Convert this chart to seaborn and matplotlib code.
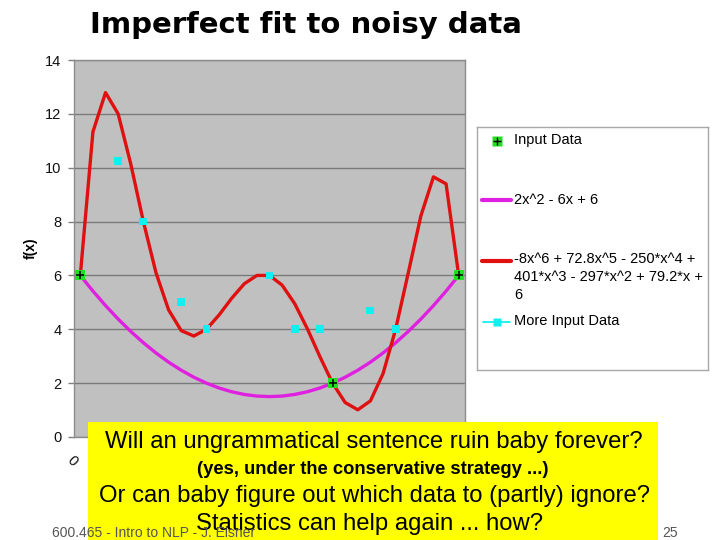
import numpy as np
import pandas as pd
import matplotlib
matplotlib.use("Agg")
import matplotlib.pyplot as plt
import seaborn as sns
from matplotlib.lines import Line2D
from matplotlib.patches import Rectangle

# x categories 0, 0.1, ..., 3.0
x_vals = [0.0, 0.1, 0.2, 0.3, 0.4, 0.5, 0.6, 0.7, 0.8, 0.9, 1.0,
          1.1, 1.2, 1.3, 1.4, 1.5, 1.6, 1.7, 1.8, 1.9, 2.0,
          2.1, 2.2, 2.3, 2.4, 2.5, 2.6, 2.7, 2.8, 2.9, 3.0]

# 2x^2 - 6x + 6
quad_vals = [6.00, 5.42, 4.88, 4.38, 3.92, 3.50, 3.12, 2.78, 2.48, 2.22, 2.00,
             1.82, 1.68, 1.58, 1.52, 1.50, 1.52, 1.58, 1.68, 1.82, 2.00,
             2.22, 2.48, 2.78, 3.12, 3.50, 3.92, 4.38, 4.88, 5.42, 6.00]

# degree 6 fit through all the input points
poly_vals = [6.00, 11.33, 12.79, 12.00, 10.14, 8.00, 6.10, 4.72, 3.95, 3.75, 4.00,
             4.53, 5.15, 5.69, 6.00, 6.00, 5.64, 4.95, 4.02, 2.98, 2.00,
             1.28, 1.01, 1.34, 2.35, 4.00, 6.09, 8.21, 9.66, 9.40, 6.00]

input_x = [0.0, 2.0, 3.0]
input_y = [6, 2, 6]

more_x = [0.3, 0.5, 0.8, 1.0, 1.5, 1.7, 1.9, 2.3, 2.5]
more_y = [10.25, 8, 5, 4, 6, 4, 4, 4.7, 4]

x_ticks = [0, 0.5, 1, 1.5, 2, 2.5, 3]
x_tick_labels = ["0", "0.5", "1", "1.5", "2", "2.5", "3"]

quad_label = "2x^2 - 6x + 6"
poly_label = "-8x^6 + 72.8x^5 - 250*x^4 +\n401*x^3 - 297*x^2 + 79.2*x +\n6"

RED = "#E01010"
MAGENTA = "#E020E0"
CYAN = "#10F0F0"
GREEN = "#20E020"

W, H = 720, 540

sns.set_style("white")
plt.rcParams["font.family"] = ["Liberation Sans", "DejaVu Sans"]
plt.rcParams["text.color"] = "black"

fig = plt.figure(figsize=(7.2, 5.4), dpi=100)
ax = fig.add_axes([74 / W, 1 - 437 / H, 391 / W, 377 / H])
ax.set_facecolor("#C0C0C0")

curves = pd.DataFrame({"x": x_vals, "quad": quad_vals, "poly": poly_vals})
sns.lineplot(data=curves, x="x", y="quad", color=MAGENTA, linewidth=2.4, ax=ax, zorder=3)
sns.lineplot(data=curves, x="x", y="poly", color=RED, linewidth=2.4, ax=ax, zorder=4)

sns.scatterplot(x=more_x, y=more_y, marker="s", s=32, color=CYAN,
                edgecolor="none", ax=ax, zorder=5)
sns.scatterplot(x=input_x, y=input_y, marker="s", s=52, color=GREEN,
                edgecolor="none", ax=ax, zorder=6)
sns.scatterplot(x=input_x, y=input_y, marker="+", s=40, color="black",
                linewidth=1.1, ax=ax, zorder=7)

ax.set_xlim(-0.05, 3.05)
ax.set_ylim(0, 14)
ax.set_yticks(range(0, 15, 2))
ax.yaxis.grid(True, color="#7A7A7A", linewidth=1.0)
ax.set_axisbelow(True)
ax.set_xticks(x_ticks)
ax.set_xticklabels(x_tick_labels, rotation=-45, ha="right", va="top", fontsize=10.5,
                   color="#111111")
ax.tick_params(axis="y", length=4, width=1, labelsize=10.5, direction="out", left=True,
               color="#808080", labelcolor="#111111", pad=5)
ax.tick_params(axis="x", length=0, pad=12)
ax.set_xlabel("")
ax.set_ylabel("f(x)", fontsize=10, fontweight="bold", labelpad=5, color="black")
for side in ["top", "right", "left", "bottom"]:
    ax.spines[side].set_color("#8C8C8C")
    ax.spines[side].set_linewidth(1.0)

fig.text(90 / W, 1 - 33 / H, "Imperfect fit to noisy data", fontsize=21,
         family="DejaVu Sans", fontweight="bold", color="black", va="baseline", ha="left")

# legend drawn in its own box so the red entry lines up with its first text line
lg = fig.add_axes([477 / W, 1 - 370 / H, 231 / W, 243 / H])
lg.set_xlim(477, 708)
lg.set_ylim(370, 127)
lg.set_xticks([])
lg.set_yticks([])
for side in lg.spines.values():
    side.set_color("#A8A8A8")
    side.set_linewidth(1.0)
lg.add_line(Line2D([497], [141], linestyle="none", marker="s", markersize=7,
                   markerfacecolor=GREEN, markeredgecolor="none"))
lg.add_line(Line2D([497], [141], linestyle="none", marker="+", markersize=6,
                   color="black", markeredgewidth=1.0))
lg.add_line(Line2D([482, 511], [200, 200], color=MAGENTA, linewidth=3))
lg.add_line(Line2D([482, 511], [261, 261], color=RED, linewidth=3))
lg.add_line(Line2D([483, 510], [322, 322], color=CYAN, linewidth=1.3))
lg.add_line(Line2D([497], [322], linestyle="none", marker="s", markersize=5.5,
                   color=CYAN, markeredgecolor="none"))
lg.text(514, 140, "Input Data", fontsize=10.5, va="center", ha="left")
lg.text(514, 200, quad_label, fontsize=10.5, va="center", ha="left")
lg.text(514, 252, poly_label, fontsize=10.5, va="top", ha="left", linespacing=1.38)
lg.text(514, 321, "More Input Data", fontsize=10.5, va="center", ha="left")

fig.patches.append(Rectangle((88 / W, 0), 570 / W, 118 / H, transform=fig.transFigure,
                             facecolor="#FFFF00", edgecolor="none", zorder=10))
fig.text(374 / W, 1 - 448 / H, "Will an ungrammatical sentence ruin baby forever?",
         fontsize=17.2, ha="center", va="baseline", zorder=11)
fig.text(373 / W, 1 - 474 / H, "(yes, under the conservative strategy ...)",
         fontsize=13.2, fontweight="bold", ha="center", va="baseline", zorder=11)
fig.text(374 / W, 1 - 502 / H, "Or can baby figure out which data to (partly) ignore?",
         fontsize=17.2, ha="center", va="baseline", zorder=11)
fig.text(370 / W, 1 - 530 / H, "Statistics can help again ... how?",
         fontsize=17.2, ha="center", va="baseline", zorder=11)

fig.text(52 / W, 1 - 537 / H, "600.465 - Intro to NLP - J. Eisner", fontsize=10,
         color="#555555", ha="left", va="baseline", zorder=12)
fig.text(662 / W, 1 - 537 / H, "25", fontsize=10, color="#555555",
         ha="left", va="baseline", zorder=12)

fig.savefig("out.png", dpi=100, facecolor="white")
